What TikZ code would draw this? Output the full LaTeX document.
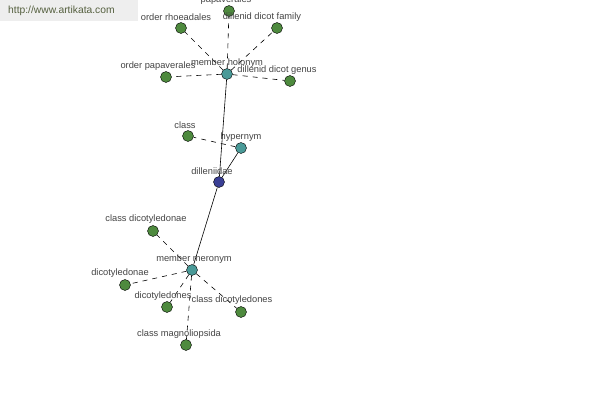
\documentclass[tikz,border=0pt]{standalone}
\usepackage{fontspec}
\setmainfont{Liberation Sans}
\definecolor{gnode}{HTML}{4E8A3E}
\definecolor{tnode}{HTML}{4A9A98}
\definecolor{bnode}{HTML}{3A3F95}
\definecolor{lbl}{HTML}{444444}
\definecolor{wm}{HTML}{55603F}
\definecolor{wmbg}{HTML}{EEEEEE}
\tikzset{
  dot/.style={circle,draw=black,line width=0.4pt,minimum size=11pt,inner sep=0pt},
  gdot/.style={dot,fill=gnode},
  tdot/.style={dot,fill=tnode},
  bdot/.style={dot,fill=bnode},
  lab/.style={font=\fontsize{9.3}{10}\selectfont,text=lbl,inner sep=0pt},
  solidedge/.style={draw=black,line width=0.6pt},
  dashedge/.style={draw=black,line width=0.6pt,dashed,dash pattern=on 5pt off 5pt}
}
\begin{document}
\begin{tikzpicture}[x=1pt,y=-1pt]
\useasboundingbox[fill=white] (0,0) rectangle (600,400);
\fill[wmbg] (0,0) rectangle (138,21);
\node[font=\fontsize{10.3}{11}\selectfont,text=wm,anchor=west,inner sep=0pt] (wmtext) at (8,11) {http://www.artikata.com};
% nodes
\node[bdot] (dil) at (219,182) {};
\node[tdot] (mh) at (227,74) {};
\node[tdot] (hyp) at (241,148) {};
\node[tdot] (mm) at (192,270) {};
\node[gdot] (pap) at (229,11) {};
\node[gdot] (rho) at (181,28) {};
\node[gdot] (fam) at (277,28) {};
\node[gdot] (opap) at (166,77) {};
\node[gdot] (gen) at (290,81) {};
\node[gdot] (cls) at (188,136) {};
\node[gdot] (cdn) at (153,231) {};
\node[gdot] (dn) at (125,285) {};
\node[gdot] (ds) at (167,307) {};
\node[gdot] (cds) at (241,312) {};
\node[gdot] (cmag) at (186,345) {};
% edges
\draw[solidedge] (dil) -- (mh);
\draw[solidedge] (dil) -- (hyp);
\draw[solidedge] (dil) -- (mm);
\foreach \n in {pap,rho,fam,opap,gen} \draw[dashedge] (mh) -- (\n);
\draw[dashedge] (hyp) -- (cls);
\foreach \n in {cdn,dn,ds,cds,cmag} \draw[dashedge] (mm) -- (\n);
% labels
\node[lab] (lpap) at (226,0) {papaverales};
\node[lab] (lrho) at (176,17) {order rhoeadales};
\node[lab] (lfam) at (262,17) {dillenid dicot family};
\node[lab] (lopap) at (158,66) {order papaverales};
\node[lab] (lmh) at (227,63) {member holonym};
\node[lab] (lgen) at (277,70) {dillenid dicot genus};
\node[lab] (lcls) at (185,125) {class};
\node[lab] (lhyp) at (241,137) {hypernym};
\node[lab] (ldil) at (212,171) {dilleniidae};
\node[lab] (lcdn) at (146,219) {class dicotyledonae};
\node[lab] (lmm) at (194,259) {member meronym};
\node[lab] (ldn) at (120,273) {dicotyledonae};
\node[lab] (lds) at (163,296) {dicotyledones};
\node[lab] (lcds) at (232,300) {class dicotyledones};
\node[lab] (lcmag) at (179,334) {class magnoliopsida};
\end{tikzpicture}
\end{document}
